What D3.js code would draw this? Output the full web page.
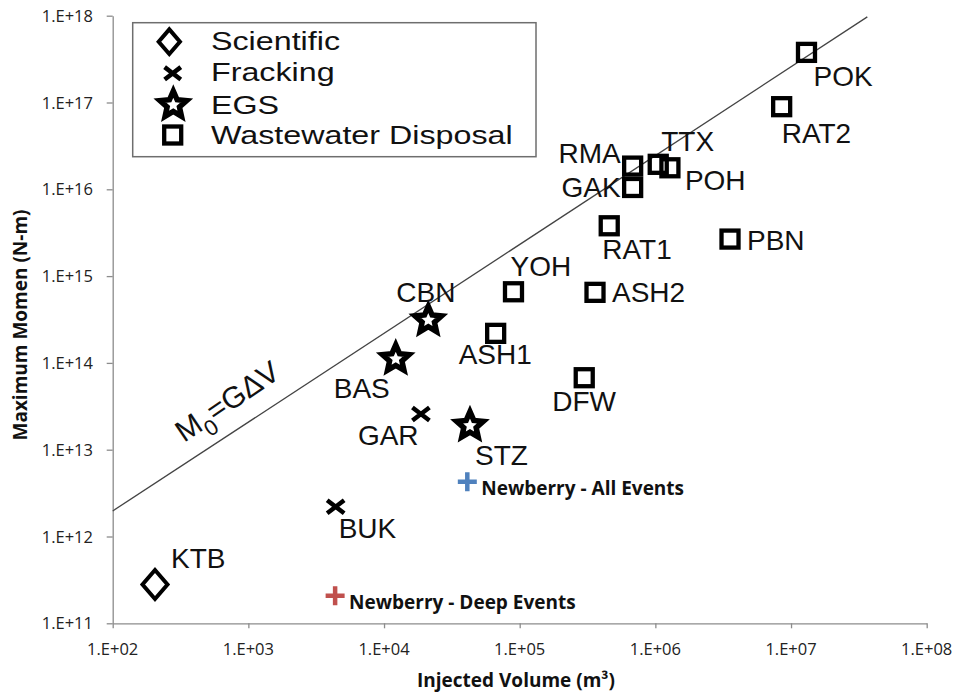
<!DOCTYPE html>
<html>
<head>
<meta charset="utf-8">
<script src="https://cdn.jsdelivr.net/npm/d3@7"></script>
<style>
  html, body { margin: 0; padding: 0; background: #fff; }
  svg { display: block; }
</style>
</head>
<body>
<svg id="chart" width="956" height="694"></svg>
<script>
// ---------------- data ----------------
const siteNames = ["KTB","BUK","GAR","BAS","CBN","STZ","ASH1","YOH","ASH2","DFW","RAT1","PBN","GAK","RMA","TTX","POH","RAT2","POK"];
const siteTypes = ["Scientific","Fracking","Fracking","EGS","EGS","EGS","Wastewater","Wastewater","Wastewater","Wastewater","Wastewater","Wastewater","Wastewater","Wastewater","Wastewater","Wastewater","Wastewater","Wastewater"];
const injectedVolume = [205, 4400, 18700, 12200, 21200, 43000, 66500, 90000, 359000, 299000, 457000, 3550000, 680000, 680000, 1050000, 1280000, 8530000, 13000000];
const maxMoment = [2.8e11, 2.2e12, 2.58e13, 1.11e14, 3.1e14, 1.89e13, 2.19e14, 6.6e14, 6.5e14, 6.75e13, 3.8e15, 2.67e15, 1.05e16, 1.85e16, 1.94e16, 1.77e16, 8.95e16, 3.78e17];

const newberryNames = ["Newberry - All Events", "Newberry - Deep Events"];
const newberryVolume = [41100, 4360];
const newberryMoment = [4.28e12, 2.07e11];

const legendLabels = ["Scientific", "Fracking", "EGS", "Wastewater Disposal"];
const legendTypes = ["Scientific", "Fracking", "EGS", "Wastewater"];

const lineVolume = [1e2, 3.65e7];
const lineMoment = [1.97e12, 9.7e17];

const xTicks = [1e2, 1e3, 1e4, 1e5, 1e6, 1e7, 1e8];
const yTicks = [1e11, 1e12, 1e13, 1e14, 1e15, 1e16, 1e17, 1e18];

const xTitle = "Injected Volume (m³)";
const yTitle = "Maximum Momen (N-m)";

// ---------------- layout (label placement relative to marker) ----------------
const labelLayout = {
  KTB: [16, -16, "start"], BUK: [3, 31, "start"], GAR: [-63, 31, "start"], BAS: [-62, 39, "start"],
  CBN: [-32, -18, "start"], STZ: [5, 39, "start"], ASH1: [-37, 31, "start"], YOH: [-3, -16, "start"],
  ASH2: [17, 10, "start"], DFW: [-32, 33, "start"], RAT1: [-7, 33, "start"], PBN: [17, 11, "start"],
  GAK: [-12, 10, "end"], RMA: [-12, -3, "end"], TTX: [3, -13, "start"], POH: [15, 22, "start"],
  RAT2: [0, 36, "start"], POK: [7, 34, "start"]
};
const newberryColors = ["#4f81bd", "#c0504d"];

// ---------------- drawing ----------------
const svg = d3.select("#chart");
svg.append("rect").attr("width", 956).attr("height", 694).attr("fill", "#fff");

const x = d3.scaleLog().domain([1e2, 1e8]).range([112.7, 926.7]);
const y = d3.scaleLog().domain([1e11, 1e18]).range([623.3, 15.7]);

const expFmt = d => { const e = Math.round(Math.log10(d)); return "1.E+" + (e < 10 ? "0" + e : e); };
const tickFont = "'Open Sans', Lato, sans-serif";
const labelFont = "'Liberation Sans', Arial, Helvetica, sans-serif";

// axis lines and ticks from the scales
const xAxis = svg.append("g").attr("transform", "translate(0,623.3)")
  .call(d3.axisBottom(x).tickValues(xTicks).tickFormat("").tickSize(5).tickSizeOuter(0));
const yAxis = svg.append("g").attr("transform", "translate(112.7,0)")
  .call(d3.axisLeft(y).tickValues(yTicks).tickFormat("").tickSize(6).tickSizeOuter(0));
[xAxis, yAxis].forEach(a => {
  a.select(".domain").attr("stroke", "#8c8c8c").attr("stroke-width", 1.3);
  a.selectAll(".tick line").attr("stroke", "#8c8c8c").attr("stroke-width", 1.3);
});
// tick labels
svg.append("g").selectAll("text").data(xTicks).join("text")
  .attr("x", d => x(d)).attr("y", 655).attr("text-anchor", "middle")
  .attr("font-family", tickFont).attr("font-size", 16.5).attr("fill", "#222").text(expFmt);
svg.append("g").selectAll("text").data(yTicks).join("text")
  .attr("x", 93).attr("y", d => y(d) + 6).attr("text-anchor", "end")
  .attr("font-family", tickFont).attr("font-size", 16.5).attr("fill", "#222").text(expFmt);

// axis titles
svg.append("text").attr("x", 516).attr("y", 687).attr("text-anchor", "middle")
  .attr("font-family", tickFont).attr("font-weight", "bold").attr("font-size", 19).attr("fill", "#111")
  .text(xTitle);
svg.append("text").attr("transform", "translate(27,325) rotate(-90)").attr("text-anchor", "middle")
  .attr("font-family", tickFont).attr("font-weight", "bold").attr("font-size", 19).attr("fill", "#111")
  .text(yTitle);

// M0 = G dV line
const lineGen = d3.line().x(d => x(d[0])).y(d => y(d[1]));
svg.append("path").datum(d3.zip(lineVolume, lineMoment)).attr("d", lineGen)
  .attr("fill", "none").attr("stroke", "#444").attr("stroke-width", 1.3);

const eq = svg.append("text").attr("transform", "translate(184,443) rotate(-34)")
  .attr("font-family", labelFont).attr("font-size", 30).attr("fill", "#111");
eq.append("tspan").text("M");
eq.append("tspan").attr("font-size", 22).attr("dy", 10).text("0");
eq.append("tspan").attr("dy", -10).text("=GΔV");

// marker shapes
function drawMarker(g, type, scale) {
  const s = scale || 1;
  if (type === "Scientific") {
    g.append("path").attr("d", `M0,${-14.5*s}L${12.5*s},0L0,${14.5*s}L${-12.5*s},0Z`)
      .attr("fill", "#fff").attr("stroke", "#000").attr("stroke-width", 4);
  } else if (type === "Fracking") {
    const w = 8.5*s, h = 6.5*s;
    g.append("path").attr("d", `M${-w},${-h}L${w},${h}M${-w},${h}L${w},${-h}`)
      .attr("stroke", "#000").attr("stroke-width", 4.5);
  } else if (type === "EGS") {
    const R = 14*s, r = 6.5*s, pts = [];
    for (let i = 0; i < 10; i++) {
      const a = -Math.PI/2 + i*Math.PI/5, rad = i % 2 ? r : R;
      pts.push([rad*Math.cos(a), rad*Math.sin(a)]);
    }
    g.append("path").attr("d", "M" + pts.map(p => p.join(",")).join("L") + "Z")
      .attr("fill", "#fff").attr("stroke", "#000").attr("stroke-width", 5.5).attr("stroke-linejoin", "miter");
  } else {
    const h = 8.5*s;
    g.append("rect").attr("x", -h).attr("y", -h).attr("width", 2*h).attr("height", 2*h)
      .attr("fill", "none").attr("stroke", "#000").attr("stroke-width", 4.3);
  }
}

const sites = siteNames.map((n, i) => ({ name: n, type: siteTypes[i], v: injectedVolume[i], m: maxMoment[i] }));
const siteG = svg.append("g").selectAll("g").data(sites).join("g")
  .attr("transform", d => `translate(${x(d.v)},${y(d.m)})`);
siteG.each(function(d) { drawMarker(d3.select(this), d.type); });
siteG.append("text")
  .attr("x", d => labelLayout[d.name][0]).attr("y", d => labelLayout[d.name][1])
  .attr("text-anchor", d => labelLayout[d.name][2])
  .attr("font-family", labelFont).attr("font-size", 28).attr("fill", "#111")
  .text(d => d.name);

// Newberry points
const nb = newberryNames.map((n, i) => ({ name: n, v: newberryVolume[i], m: newberryMoment[i], c: newberryColors[i] }));
const nbG = svg.append("g").selectAll("g").data(nb).join("g")
  .attr("transform", d => `translate(${x(d.v)},${y(d.m)})`);
nbG.append("path").attr("d", "M-9.5,0H9.5M0,-9.5V9.5")
  .attr("stroke", d => d.c).attr("stroke-width", 4.5);
nbG.append("text").attr("x", 14).attr("y", 13)
  .attr("font-family", tickFont).attr("font-weight", "bold").attr("font-size", 19).attr("fill", "#111")
  .text(d => d.name);

// legend
const legend = svg.append("g");
legend.append("rect").attr("x", 132.7).attr("y", 22.7).attr("width", 403.3).attr("height", 134)
  .attr("fill", "#fff").attr("stroke", "#6e6e6e").attr("stroke-width", 1.5);
const legendRowY = [41.7, 73.3, 105, 135];
const legendBase = [50, 81, 114.3, 144];
const legendMarkX = [169.3, 172.7, 173.3, 172.7];
const legendScale = [0.85, 0.95, 1.0, 1.0];
legendLabels.forEach((lab, i) => {
  const mg = legend.append("g").attr("transform", `translate(${legendMarkX[i]},${legendRowY[i]})`);
  drawMarker(mg, legendTypes[i], legendScale[i]);
  legend.append("text").attr("transform", `translate(211,${legendBase[i]}) scale(1.29,1)`)
    .attr("font-family", labelFont).attr("font-size", 25).attr("fill", "#111").text(lab);
});
</script>
</body>
</html>
